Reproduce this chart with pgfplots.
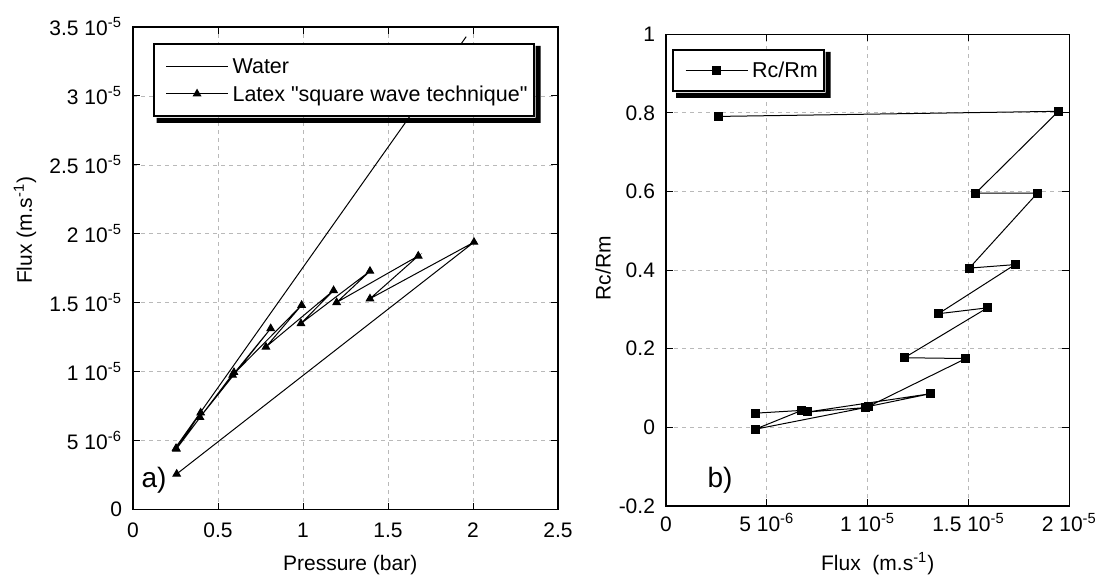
\documentclass[border=0pt]{standalone}
\usepackage{fontspec}
\setmainfont{Liberation Sans}
\font\qfont="Liberation Sans" at 10.75pt
\usepackage{pgfplots}
\pgfplotsset{compat=1.18}
\newcommand\lstrut{\rule[-2.2pt]{0pt}{11.2pt}}
\begin{document}
\begin{tikzpicture}
\path[use as bounding box] (0,0) rectangle (548.5pt,289pt);
\pgfplotsset{
  common/.style={
    scale only axis,
    anchor=south west,
    font=\fontsize{10.5}{12}\selectfont,
    scaled ticks=false,
    axis line style={line width=0.7pt},
    grid=major,
    major grid style={gray!55, line width=0.4pt, dash pattern=on 2pt off 2pt},
    major tick length=3.5pt,
    tick style={black, line width=0.5pt},
    xticklabel style={anchor=base},
    legend cell align=left,
    legend style={draw=black, line width=1pt, fill=white,
      font=\fontsize{10.75}{12}\selectfont, inner xsep=2pt, inner ysep=4.1pt,
      row sep=0pt,
      nodes={inner xsep=1pt, inner ysep=0pt}},
    legend image code/.code={\path (0pt,-6.7pt) (36pt,6.7pt);\draw[mark repeat=2,mark phase=2,##1] plot coordinates {(4pt,0pt)(19.5pt,0pt)(35pt,0pt)};},
  }
}
\newcommand\legshadow[1]{%
  \fill[black] ([xshift=0.5pt,yshift=-1.5pt]#1.north east) -- ([xshift=3pt,yshift=-1.5pt]#1.north east)
    -- ([xshift=3pt,yshift=-3pt]#1.south east) -- ([xshift=2pt,yshift=-3pt]#1.south west)
    -- ([xshift=2pt,yshift=-0.5pt]#1.south west) -- ([xshift=0.5pt,yshift=-0.5pt]#1.south east) -- cycle;}
% ---------------- a) ----------------
\begin{axis}[common,
  at={(66.5pt,34.15pt)}, width=212.5pt, height=241.35pt,
  xmin=0, xmax=2.5, ymin=0, ymax=3.5e-5,
  xtick={0,0.5,1,1.5,2,2.5},
  xticklabels={0,0.5,1,1.5,2,2.5},
  xticklabel style={yshift=-14pt},
  ytick={0,5e-6,1e-5,1.5e-5,2e-5,2.5e-5,3e-5,3.5e-5},
  yticklabels={0,5 10\textsuperscript{-6},1 10\textsuperscript{-5},1.5 10\textsuperscript{-5},2 10\textsuperscript{-5},2.5 10\textsuperscript{-5},3 10\textsuperscript{-5},3.5 10\textsuperscript{-5}},
  yticklabel style={xshift=-2pt},
  xlabel={Pressure (bar)},
  xlabel style={at={(axis description cs:0.511,-0.125)}, anchor=base},
  ylabel={Flux (m.s\textsuperscript{-1})},
  ylabel style={at={(axis description cs:-0.254,0.579)}, anchor=center},
  legend style={name=legA, at={(0.046,0.967)}, anchor=north west},
]
\addplot[black, line width=0.5pt] coordinates {(0.25,4.5e-6) (1.96,3.43e-5)};
\addlegendentry{\lstrut Water}
\addplot[black, line width=0.5pt, mark=triangle*, mark size=2.1pt, mark options={solid, fill=black}] coordinates {
(0.253,4.45e-6)
(0.398,7.03e-6)
(0.255,4.40e-6)
(0.594,9.96e-6)
(0.394,6.70e-6)
(0.81,1.314e-5)
(0.586,9.76e-6)
(0.992,1.483e-5)
(0.782,1.18e-5)
(1.18,1.59e-5)
(0.988,1.35e-5)
(1.394,1.73e-5)
(1.198,1.503e-5)
(1.678,1.84e-5)
(1.394,1.53e-5)
(2.006,1.94e-5)
(0.257,2.59e-6)
};
\addlegendentry{\lstrut{\qfont Latex "square wave technique"}}
\node[anchor=base, font=\fontsize{14}{16}\selectfont] at (axis cs:0.124,1.64e-6) {a)};
\end{axis}
\legshadow{legA}
% ---------------- b) ----------------
\begin{axis}[common,
  at={(333pt,36.05pt)}, width=201.65pt, height=235.8pt,
  xmin=0, xmax=2e-5, ymin=-0.2, ymax=1,
  xtick={0,5e-6,1e-5,1.5e-5,2e-5},
  xticklabels={0,5 10\textsuperscript{-6},1 10\textsuperscript{-5},1.5 10\textsuperscript{-5},2 10\textsuperscript{-5}},
  xticklabel style={yshift=-12.9pt},
  ytick={-0.2,0,0.2,0.4,0.6,0.8,1},
  yticklabels={-0.2,0,0.2,0.4,0.6,0.8,1},
  yticklabel style={xshift=-2pt},
  xlabel={Flux\ \ (m.s\textsuperscript{-1})},
  xlabel style={at={(axis description cs:0.525,-0.136)}, anchor=base},
  ylabel={Rc/Rm},
  ylabel style={at={(axis description cs:-0.156,0.504)}, anchor=center},
  legend style={name=legB, at={(0.015,0.969)}, anchor=north west, inner ysep=3.3pt},
]
\addplot[black, line width=0.5pt, mark=square*, mark size=2pt, mark options={solid, fill=black}] coordinates {
(4.45e-6,0.036)
(6.73e-6,0.043)
(4.42e-6,-0.005)
(9.87e-6,0.050)
(7.03e-6,0.039)
(1.313e-5,0.0856)
(1.004e-5,0.053)
(1.487e-5,0.175)
(1.182e-5,0.177)
(1.594e-5,0.304)
(1.351e-5,0.289)
(1.731e-5,0.414)
(1.504e-5,0.405)
(1.842e-5,0.596)
(1.536e-5,0.596)
(1.946e-5,0.804)
(2.59e-6,0.791)
};
\addlegendentry{\lstrut Rc/Rm}
\node[anchor=base, font=\fontsize{14}{16}\selectfont] at (axis cs:2.68e-6,-0.152) {b)};
\end{axis}
\legshadow{legB}
\end{tikzpicture}
\end{document}
